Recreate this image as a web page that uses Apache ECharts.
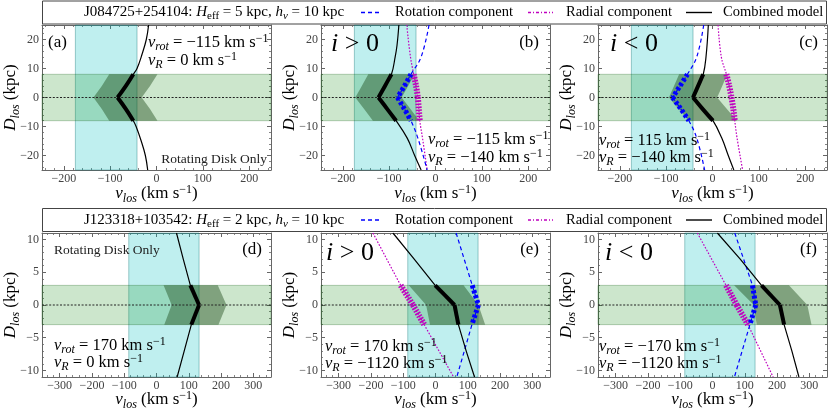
<!DOCTYPE html>
<html><head><meta charset="utf-8">
<script src="https://cdn.jsdelivr.net/npm/echarts@6/dist/echarts.min.js"></script>
<style>html,body{margin:0;padding:0;background:#fff}#c{width:830px;height:411px}</style>
</head><body><div id="c"></div><script>
const SERIF = "'Liberation Serif','DejaVu Serif',serif";

// ---------- tick labels / axis ranges ----------
const topXTicks = [-200,-100,0,100,200];
const topYTicks = [-20,-10,0,10,20];
const botXTicks = [-300,-200,-100,0,100,200,300];
const botYTicks = [-10,-5,0,5,10];
const topXRange = [-247,247], topYRange = [-25,25];
const botXRange = [-355,355], botYRange = [-11,11];
const topCyan = [-175,-42], botCyan = [-86,132];
const topDisk = [-8,8], botDisk = [-3,3];

// ---------- panel (a) ----------
const aCombD = [25,20,15,10,8,4,0,-4,-8,-10,-15,-20,-25];
const aCombV = [-17,-22,-31,-42,-50,-66,-84,-66,-50,-44,-33,-24,-19];
const aEnvD  = [8,4,0,-4,-8];
const aEnvLo = [-102,-118,-136,-118,-102];
const aEnvHi = [2,-14,-32,-14,2];
// ---------- panel (b) ----------
const bCombD = [25,18,14,8,4,0,-4,-8,-14,-20,-25];
const bCombV = [-79,-83,-87,-95,-109,-123,-104,-85,-61,-45,-31];
const bCompD = [25,14,8,4,0,-4,-8,-14,-25];
const bRotV  = [-14,-31,-53,-67,-82,-67,-53,-38,-18];
const bRadV  = [-62,-54,-47,-42,-38,-36,-34,-28,-18];
const bEnvD  = [8,4,0,-4,-8];
const bEnvLo = [-145,-159,-173,-154,-135];
const bEnvHi = [-45,-59,-73,-54,-35];
// ---------- panel (c) ----------
const cCombD = [25,14,8,4,0,-4,-8,-14,-20,-25];
const cCombV = [-9,-14,-20,-31,-42,-21,1,20,34,46];
const cCompD = [25,14,8,4,0,-4,-8,-14,-25];
const cRotV  = [-19,-34,-54,-70,-86,-68,-51,-34,-17];
const cRadV  = [12,19,30,36,41,45,48,53,65];
const cEnvD  = [8,4,0,-4,-8];
const cEnvLo = [-72,-83,-94,-73,-51];
const cEnvHi = [32,21,10,31,53];
// ---------- panel (d) ----------
const dCombD = [11,7,3,0,-3,-7,-11];
const dCombV = [62,83,105,132,108,86,64];
const dEnvD  = [3,0,-3];
const dEnvLo = [22,47,24];
const dEnvHi = [190,217,192];
// ---------- panel (e) ----------
const eCombD = [11,7,3,1.5,0,-1.5,-3,-7,-11];
const eCombV = [-132,-66,-1,29,59,65,71,95,121];
const eCompD = [11,3,0,-3,-11];
const eRotV  = [64,114,133,113,66];
const eRadV  = [-194,-108,-70,-35,56];
const eEnvD  = [3,0,-3];
const eEnvLo = [-83,-29,-17];
const eEnvHi = [87,133,154];
// ---------- panel (f) ----------
const fCombD = [11,7,3,0,-3,-7,-11];
const fCombV = [15,86,152,209,222,246,268];
const fCompD = [11,3,0,-3,-11];
const fRotV  = [69,124,134,116,68];
const fRadV  = [-47,42,75,110,188];
const fEnvD  = [3,0,-3];
const fEnvLo = [67,128,137];
const fEnvHi = [237,294,307];

// ---------- layout ----------
const W = 229;
const rows = [
  {top:25, h:145, xr:topXRange, yr:topYRange, xt:topXTicks, yt:topYTicks, xm:20, ym:2, cyan:topCyan, disk:topDisk, smooth:true, xnameY:194},
  {top:233, h:144, xr:botXRange, yr:botYRange, xt:botXTicks, yt:botYTicks, xm:20, ym:1, cyan:botCyan, disk:botDisk, smooth:false, xnameY:400}
];
const panels = [
  {left:42,  row:0, comb:[aCombV,aCombD], env:[aEnvD,aEnvLo,aEnvHi]},
  {left:321, row:0, comb:[bCombV,bCombD], rot:[bRotV,bCompD], rad:[bRadV,bCompD], env:[bEnvD,bEnvLo,bEnvHi]},
  {left:598, row:0, comb:[cCombV,cCombD], rot:[cRotV,cCompD], rad:[cRadV,cCompD], env:[cEnvD,cEnvLo,cEnvHi]},
  {left:42,  row:1, comb:[dCombV,dCombD], env:[dEnvD,dEnvLo,dEnvHi]},
  {left:321, row:1, comb:[eCombV,eCombD], rot:[eRotV,eCompD], rad:[eRadV,eCompD], env:[eEnvD,eEnvLo,eEnvHi]},
  {left:598, row:1, comb:[fCombV,fCombD], rot:[fRotV,fCompD], rad:[fRadV,fCompD], env:[fEnvD,fEnvLo,fEnvHi]}
];

const fmt = v => v < 0 ? '\u2212' + Math.abs(v) : String(v);
const steps = (a,b,s) => { const o=[]; for (let v=Math.ceil(a/s)*s; v<=b+1e-9; v+=s) o.push(+v.toFixed(6)); return o; };

function mkAxis(g, pos, range, ticks, labels, len, line) {
  return {type:'value', gridIndex:g, position:pos, min:range[0], max:range[1],
    axisLine:{show:line, onZero:false, lineStyle:{color:'#666', width:1}},
    axisTick:{show:true, inside:true, length:len, customValues:ticks, lineStyle:{color:'#666', width:len>3?1:0.8}},
    axisLabel:{show:labels, customValues:ticks, formatter:fmt, color:'#444', fontFamily:SERIF, fontSize:12, margin:3},
    splitLine:{show:false}, minorTick:{show:false}, axisPointer:{show:false}};
}

const grid=[], xAxis=[], yAxis=[], series=[];
const zip = (V,D) => V.map((v,i)=>[v,D[i]]);
function addLine(xi, yi, pts, color, width, dash, smooth, cap) {
  const up = pts.filter(p=>p[1]>=0), lo = pts.filter(p=>p[1]<=0);
  [up, lo].forEach(seg => {
    if (seg.length < 2) return;
    series.push({type:'line', xAxisIndex:xi, yAxisIndex:yi, data:seg, symbol:'none', smooth:smooth?0.4:false,
      clip:true, silent:true, animation:false,
      lineStyle:{color, width, type:dash||'solid', cap:cap||'butt', join:'round'}});
  });
}
function addRect(xi, yi, x1, x2, y1, y2, fill, stroke) {
  series.push({type:'custom', xAxisIndex:xi, yAxisIndex:yi, silent:true, animation:false,
    data:[[x1,x2,y1,y2]], encode:{x:[0,1], y:[2,3]},
    renderItem:(params, api) => {
      const p1 = api.coord([api.value(0), api.value(3)]);
      const p2 = api.coord([api.value(1), api.value(2)]);
      return {type:'rect', shape:{x:p1[0], y:p1[1], width:p2[0]-p1[0], height:p2[1]-p1[1]},
        style:{fill, stroke, lineWidth:1}};
    }});
}
function addEnv(xi, yi, D, lo, hi) {
  series.push({type:'custom', xAxisIndex:xi, yAxisIndex:yi, silent:true, animation:false,
    data:[[lo[0], D[0]]],
    renderItem:(params, api) => {
      const pts=[];
      D.forEach((d,i)=>pts.push(api.coord([lo[i], d])));
      for (let i=D.length-1;i>=0;i--) pts.push(api.coord([hi[i], D[i]]));
      return {type:'polygon', shape:{points:pts}, style:{fill:'rgba(25,70,20,0.42)'}};
    }});
}

panels.forEach((p,k) => {
  const R = rows[p.row];
  grid.push({left:p.left, top:R.top, width:W, height:R.h, containLabel:false});
  const xi = xAxis.length, yi = yAxis.length;
  const xMin = steps(R.xr[0], R.xr[1], R.xm), yMin = steps(R.yr[0], R.yr[1], R.ym);
  xAxis.push(mkAxis(k,'bottom',R.xr,R.xt,true,4,true));
  xAxis.push(mkAxis(k,'bottom',R.xr,xMin,false,2,false));
  xAxis.push(mkAxis(k,'top',R.xr,R.xt,false,4,true));
  xAxis.push(mkAxis(k,'top',R.xr,xMin,false,2,false));
  yAxis.push(mkAxis(k,'left',R.yr,R.yt,true,4,true));
  yAxis.push(mkAxis(k,'left',R.yr,yMin,false,2,false));
  yAxis.push(mkAxis(k,'right',R.yr,R.yt,false,4,true));
  yAxis.push(mkAxis(k,'right',R.yr,yMin,false,2,false));

  addRect(xi, yi, R.cyan[0], R.cyan[1], R.yr[0], R.yr[1], 'rgba(0,191,191,0.25)', 'rgba(0,110,110,0.35)');
  addRect(xi, yi, R.xr[0], R.xr[1], R.disk[0], R.disk[1], 'rgba(0,128,0,0.2)', 'rgba(0,80,0,0.25)');
  addEnv(xi, yi, p.env[0], p.env[1], p.env[2]);
  series.push({type:'line', xAxisIndex:xi, yAxisIndex:yi, data:[[R.xr[0],0],[R.xr[1],0]], symbol:'none',
    silent:true, animation:false, lineStyle:{color:'#222', width:1, type:[2,1.6]}});

  const band = R.disk[1];
  const inBand = pts => pts.filter(q => Math.abs(q[1]) <= band + 1e-9);
  const comb = zip(p.comb[0], p.comb[1]);
  if (p.rad) addLine(xi, yi, zip(p.rad[0], p.rad[1]), '#bf00bf', 1.2, [1.6,1.6], R.smooth);
  if (p.rot) addLine(xi, yi, zip(p.rot[0], p.rot[1]), '#0000ff', 1.2, [4,3], R.smooth);
  addLine(xi, yi, comb, '#000', 1.2, null, R.smooth);
  if (p.rad) addLine(xi, yi, inBand(zip(p.rad[0], p.rad[1])), '#bf00bf', 6, [1.6,1.4], R.smooth);
  if (p.rot) addLine(xi, yi, inBand(zip(p.rot[0], p.rot[1])), '#0000ff', 5, [3,2.2], R.smooth, 'butt');
  addLine(xi, yi, inBand(comb), '#000', 4, null, R.smooth);
});

// ---------- text ----------
function rich(F) {
  const sF = Math.round(F*0.7);
  return {
    r:{fontFamily:SERIF, fontSize:F, lineHeight:F+4, fill:'#000'},
    i:{fontFamily:SERIF, fontStyle:'italic', fontSize:F, lineHeight:F+4, fill:'#000'},
    s:{fontFamily:SERIF, fontStyle:'italic', fontSize:sF, lineHeight:sF, verticalAlign:'bottom', fill:'#000'},
    e:{fontFamily:SERIF, fontSize:sF, lineHeight:sF, verticalAlign:'bottom', fill:'#000'},
    p:{fontFamily:SERIF, fontSize:sF, lineHeight:sF, verticalAlign:'top', fill:'#000'}
  };
}
const graphic = [];
function txt(x, y, text, F, align, rot, color) {
  const rc = rich(F);
  if (color) Object.keys(rc).forEach(k => rc[k].fill = color);
  graphic.push({type:'text', x, y, rotation:rot||0, silent:true, z:100,
    style:{text, rich:rc, align:align||'left', verticalAlign:'middle', fontFamily:SERIF, fontSize:F, fill:color||'#000'}});
}
const vrot = v => '{i|v}{s|rot}{r| = ' + v + ' km s}{p|\u22121}';
const vR = v => '{i|v}{s|R}{r| = ' + v + ' km s}{p|\u22121}';

// legends
const legendRows = [
  {y:1, title:'{r|J084725+254104: }{i|H}{e|eff}{r| = 5 kpc, }{i|h}{s|v}{r| = 10 kpc}'},
  {y:208.5, title:'{r|J123318+103542: }{i|H}{e|eff}{r| = 2 kpc, }{i|h}{s|v}{r| = 10 kpc}'}
];
legendRows.forEach(L => {
  const cy = L.y + 11.5;
  graphic.push({type:'rect', z:90, silent:true, shape:{x:42.5, y:L.y, width:784, height:23},
    style:{fill:'#fff', stroke:'#444', lineWidth:1}});
  txt(84, cy, L.title, 15);
  graphic.push({type:'line', z:100, silent:true, shape:{x1:361, y1:cy, x2:381, y2:cy}, style:{stroke:'#0000ff', lineWidth:1.3, lineDash:[4,3]}});
  txt(395, cy, '{r|Rotation component}', 14.5);
  graphic.push({type:'line', z:100, silent:true, shape:{x1:528, y1:cy, x2:553, y2:cy}, style:{stroke:'#bf00bf', lineWidth:1.3, lineDash:[3,2,1,2]}});
  txt(566, cy, '{r|Radial component}', 14.5);
  graphic.push({type:'line', z:100, silent:true, shape:{x1:686, y1:cy, x2:712, y2:cy}, style:{stroke:'#000', lineWidth:1.4}});
  txt(723, cy, '{r|Combined model}', 14.5);
});

// axis names
panels.forEach(p => {
  const R = rows[p.row];
  txt(p.left + W/2, R.xnameY, '{i|v}{s|los}{r| (km s}{p|\u22121}{r|)}', 17, 'center');
  txt(p.left - 31, R.top + R.h/2, '{i|D}{s|los}{r| (kpc)}', 17, 'center', Math.PI/2);
});

// panel annotations
txt(48, 43, '{r|(a)}', 17);
txt(148, 43, vrot('\u2212115'), 16.5);
txt(148, 61, vR('0'), 16.5);
txt(267, 159, '{r|Rotating Disk Only}', 13.5, 'right', 0, '#222');

txt(331, 44, '{i|i}{r| > 0}', 26);
txt(539, 43, '{r|(b)}', 17, 'right');
txt(428, 140, vrot('\u2212115'), 16.5);
txt(428, 158, vR('\u2212140'), 16.5);

txt(610, 44, '{i|i}{r| < 0}', 26);
txt(818, 43, '{r|(c)}', 17, 'right');
txt(599, 141, vrot('115'), 16.5);
txt(599, 158, vR('\u2212140'), 16.5);

txt(54, 250, '{r|Rotating Disk Only}', 13.5, 'left', 0, '#222');
txt(262, 250, '{r|(d)}', 17, 'right');
txt(54, 346, vrot('170'), 16.5);
txt(54, 363, vR('0'), 16.5);

txt(326, 253, '{i|i}{r| > 0}', 26);
txt(539, 250, '{r|(e)}', 17, 'right');
txt(325, 347, vrot('170'), 16.5);
txt(325, 364, vR('\u22121120'), 16.5);

txt(605, 253, '{i|i}{r| < 0}', 26);
txt(817, 250, '{r|(f)}', 17, 'right');
txt(599, 347, vrot('\u2212170'), 16.5);
txt(599, 364, vR('\u22121120'), 16.5);

const chart = echarts.init(document.getElementById('c'), null, {renderer:'canvas'});
chart.setOption({animation:false, backgroundColor:'#fff', grid, xAxis, yAxis, series, graphic});
</script></body></html>
